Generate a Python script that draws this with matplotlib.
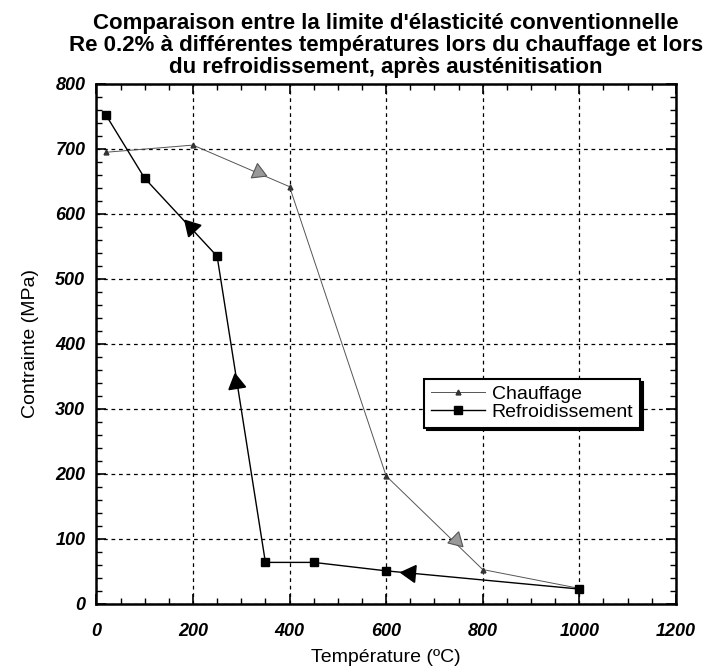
import numpy as np
import matplotlib
matplotlib.use('Agg')
import matplotlib.pyplot as plt
from matplotlib.ticker import MultipleLocator

plt.rcParams['font.family'] = ['Liberation Sans', 'DejaVu Sans']

# Data
t_chauf = [20, 200, 400, 600, 800, 1000]
s_chauf = [695, 706, 642, 197, 53, 24]
t_refr = [20, 100, 250, 350, 450, 600, 1000]
s_refr = [752, 655, 535, 64, 64, 51, 23]

# direction arrows drawn on the curves (position + segment they follow)
arrow_chauf_t = [335, 745]
arrow_chauf_s = [664, 99]
arrow_chauf_seg = [(1, 2), (3, 4)]
arrow_refr_t = [195, 290, 650]
arrow_refr_s = [580, 340, 47]
arrow_refr_seg = [(2, 1), (3, 2), (6, 5)]

fig = plt.figure(figsize=(7.14, 6.72), dpi=100)
ax = fig.add_axes([0.135, 0.1012, 0.8116, 0.7738])

ax.plot(t_chauf, s_chauf, color='#555555', lw=0.7, marker='^', ms=3.5,
        mfc='#333333', mec='#333333', label='Chauffage', zorder=3)
ax.plot(t_refr, s_refr, color='black', lw=1.0, marker='s', ms=5.5,
        mfc='black', mec='black', label='Refroidissement', zorder=3)

ax.set_xlim(0, 1200)
ax.set_ylim(0, 800)
fig.canvas.draw()


def arrow_angle(xs, ys, seg):
    a, b = seg
    p0 = ax.transData.transform((xs[a], ys[a]))
    p1 = ax.transData.transform((xs[b], ys[b]))
    return np.degrees(np.arctan2(p1[1] - p0[1], p1[0] - p0[0])) - 90


for x, y, seg in zip(arrow_chauf_t, arrow_chauf_s, arrow_chauf_seg):
    ang = arrow_angle(t_chauf, s_chauf, seg)
    ax.plot(x, y, marker=(3, 0, ang), ms=13, color='#999999',
            mec='#555555', mew=0.8, zorder=4)
for x, y, seg in zip(arrow_refr_t, arrow_refr_s, arrow_refr_seg):
    ang = arrow_angle(t_refr, s_refr, seg)
    ax.plot(x, y, marker=(3, 0, ang), ms=14, color='black', zorder=4)

ax.xaxis.set_major_locator(MultipleLocator(200))
ax.xaxis.set_minor_locator(MultipleLocator(50))
ax.yaxis.set_major_locator(MultipleLocator(100))
ax.yaxis.set_minor_locator(MultipleLocator(20))
ax.tick_params(which='both', direction='in', top=True, right=True)
ax.tick_params(which='major', length=7, width=1.2)
ax.tick_params(which='minor', length=4, width=1.0)
ax.tick_params(axis='x', which='major', pad=14)
ax.tick_params(axis='y', which='major', pad=8)
for lab in ax.get_xticklabels() + ax.get_yticklabels():
    lab.set_fontsize(13)
    lab.set_fontweight('bold')
    lab.set_fontstyle('italic')

ax.grid(True, which='major', color='black', linestyle=(0, (3, 3)), lw=0.9)
for sp in ax.spines.values():
    sp.set_linewidth(1.8)

ax.set_xlabel('Température (ºC)', fontsize=14, labelpad=6)
ax.set_ylabel('Contrainte (MPa)', fontsize=14, labelpad=12)
ax.set_title("Comparaison entre la limite d'élasticité conventionnelle\n"
             "Re 0.2% à différentes températures lors du chauffage et lors\n"
             "du refroidissement, après austénitisation",
             fontsize=16, fontweight='bold', pad=8, linespacing=1.05)

leg = ax.legend(loc='upper left', bbox_to_anchor=(0.565, 0.433),
                borderaxespad=0, fontsize=14, frameon=True, fancybox=False,
                shadow={'color': 'black', 'alpha': 1},
                handlelength=2.8, borderpad=0.35, labelspacing=0.0,
                handletextpad=0.35)
leg.get_frame().set_edgecolor('black')
leg.get_frame().set_linewidth(1.5)
leg.get_frame().set_alpha(1)

fig.savefig('out.png', dpi=100)
